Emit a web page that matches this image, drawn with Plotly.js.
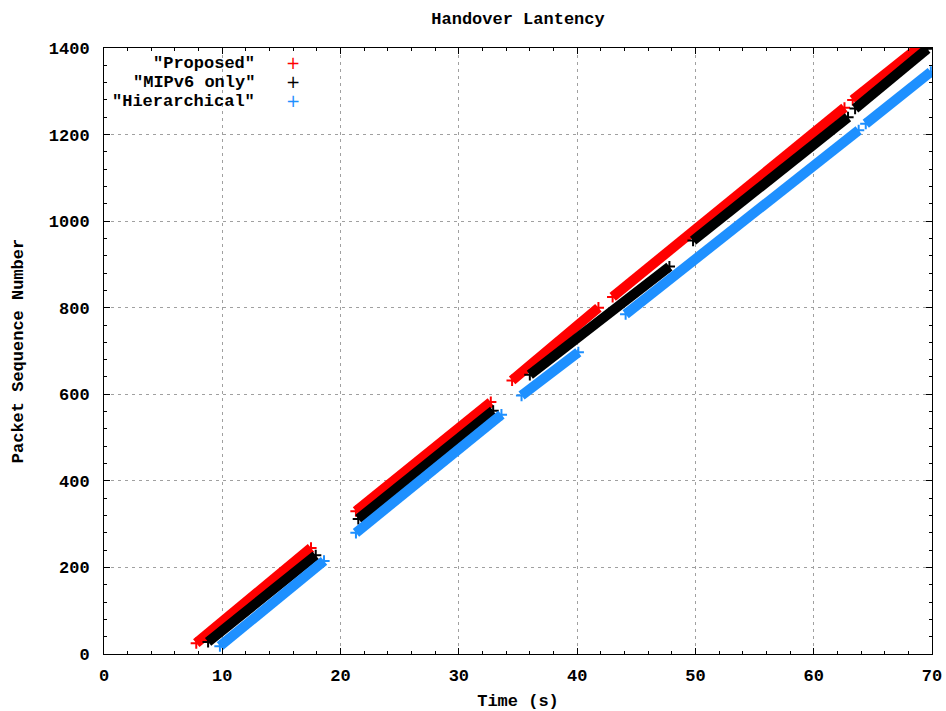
<!DOCTYPE html>
<html>
<head>
<meta charset="utf-8">
<script src="https://cdn.plot.ly/plotly-3.0.1.min.js"></script>
<style>html,body{margin:0;padding:0;background:#fff;}#chart{width:946px;height:711px;}</style>
</head>
<body>
<div id="chart"></div>
<script>
// Series names (legend labels)
const seriesNames = ['"Proposed"', '"MIPv6 only"', '"Hierarchical"'];
const seriesColors = ['#ff0000', '#000000', '#1e90ff'];

// Segment end points (null = handover gap)
const proposedX = [7.8, 17.5, null, 21.3, 32.7, null, 34.5, 41.8, null, 43.0, 62.6, null, 63.3, 68.8];
const proposedY = [25, 245, null, 330, 582, null, 632, 800, null, 825, 1262, null, 1280, 1400];

const mipv6X = [8.8, 17.9, null, 21.5, 32.9, null, 36.0, 47.8, null, 49.8, 62.9, null, 63.5, 69.6];
const mipv6Y = [28, 228, null, 312, 562, null, 645, 895, null, 955, 1240, null, 1260, 1398];

const hierX = [9.8, 18.6, null, 21.3, 33.6, null, 35.3, 40.1, null, 44.1, 63.8, null, 64.4, 69.9];
const hierY = [18, 215, null, 280, 553, null, 597, 697, null, 785, 1210, null, 1225, 1345];

const xTicks = [0, 10, 20, 30, 40, 50, 60, 70];
const yTicks = [0, 200, 400, 600, 800, 1000, 1200, 1400];

const FONT = 'Liberation Mono, DejaVu Sans Mono, monospace';

const xs = [proposedX, mipv6X, hierX];
const ys = [proposedY, mipv6Y, hierY];

const traces = xs.map((x, i) => ({
  type: 'scatter',
  mode: 'lines+markers',
  x: x, y: ys[i],
  name: seriesNames[i],
  connectgaps: false,
  line: {color: seriesColors[i], width: 10},
  marker: {symbol: 'cross-thin-open', size: 8, line: {color: seriesColors[i], width: 2}, color: seriesColors[i]},
  showlegend: false,
  hoverinfo: 'skip'
}));

const legendAnn = [];
const legRowY = [0.975, 0.944, 0.9125];
seriesNames.forEach((n, i) => {
  legendAnn.push({xref: 'paper', yref: 'paper', x: 0.1848, y: legRowY[i], xanchor: 'right', yanchor: 'middle',
    height: 16, text: n, showarrow: false, font: {family: FONT, size: 17, weight: 'bold', color: '#000'}});
  legendAnn.push({xref: 'paper', yref: 'paper', x: 0.228, y: legRowY[i], xanchor: 'center', yanchor: 'middle',
    height: 16, text: '+', showarrow: false, font: {family: 'DejaVu Sans', size: 17, color: seriesColors[i]}});
});

const axisCommon = {
  showline: true, linecolor: '#000', linewidth: 1, mirror: 'ticks',
  ticks: 'inside', ticklen: 6, tickcolor: '#000', tickwidth: 1,
  showgrid: true, gridcolor: '#a0a0a0', gridwidth: 1, griddash: '3px,4px',
  zeroline: false,
  tickfont: {family: FONT, size: 17, weight: 'bold', color: '#000'}
};

const layout = {
  width: 946, height: 711,
  margin: {l: 104, r: 14, t: 48, b: 57},
  paper_bgcolor: '#fff', plot_bgcolor: '#fff',
  showlegend: false,
  title: {text: 'Handover Lantency', x: 0.5, xref: 'paper', y: 0.975, yref: 'container', yanchor: 'middle',
    font: {family: FONT, size: 17, weight: 'bold', color: '#000'}},
  xaxis: Object.assign({}, axisCommon, {
    range: [0, 70], tickvals: xTicks, ticktext: xTicks.map(String),
    minor: {dtick: 2, ticks: 'inside', ticklen: 3, tickcolor: '#000', showgrid: false},
    ticklabelstandoff: 6,
    title: {text: 'Time (s)', standoff: 12, font: {family: FONT, size: 17, weight: 'bold', color: '#000'}}
  }),
  yaxis: Object.assign({}, axisCommon, {
    range: [0, 1400], tickvals: yTicks, ticktext: yTicks.map(String),
    minor: {dtick: 40, ticks: 'inside', ticklen: 3, tickcolor: '#000', showgrid: false},
    ticklabelstandoff: 10,
    title: {text: 'Packet Sequence Number', standoff: 20, font: {family: FONT, size: 17, weight: 'bold', color: '#000'}}
  }),
  annotations: legendAnn
};

Plotly.newPlot('chart', traces, layout, {displayModeBar: false, staticPlot: true});
</script>
</body>
</html>
